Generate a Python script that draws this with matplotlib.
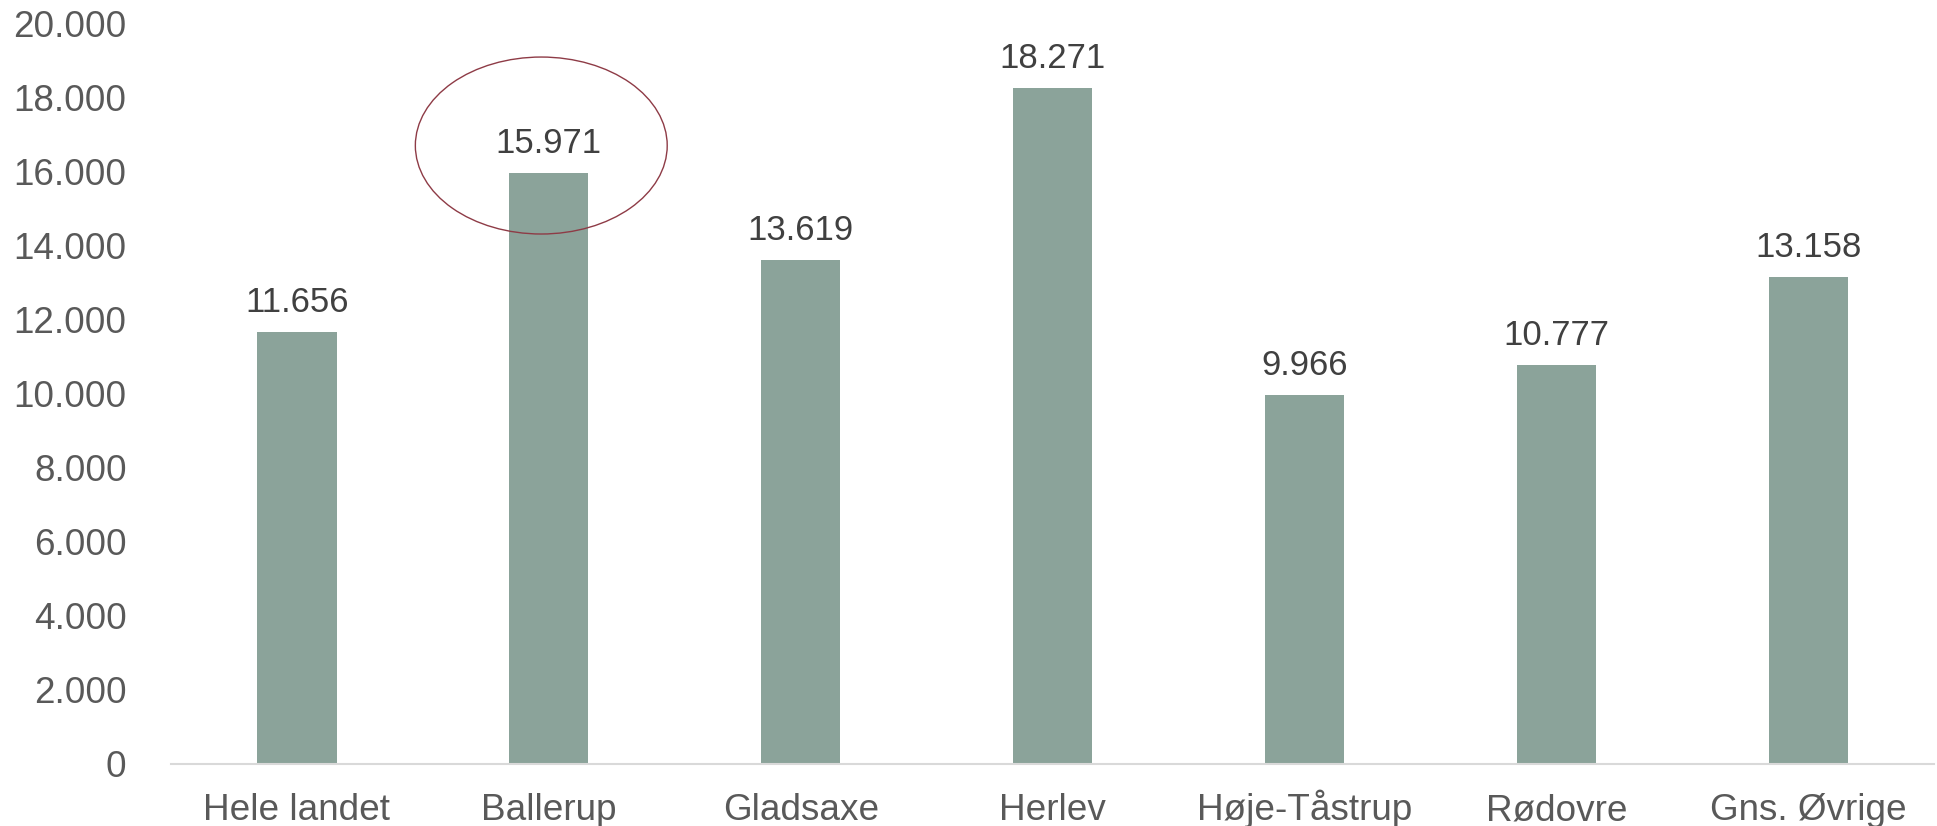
import matplotlib
matplotlib.use("Agg")
import matplotlib.pyplot as plt
from matplotlib.patches import Ellipse
from matplotlib.ticker import FuncFormatter

categories = ["Hele landet", "Ballerup", "Gladsaxe", "Herlev", "Høje-Tåstrup", "Rødovre", "Gns. Øvrige"]
values = [11656, 15971, 13619, 18271, 9966, 10777, 13158]
yticks = [0, 2000, 4000, 6000, 8000, 10000, 12000, 14000, 16000, 18000, 20000]
highlight = "Ballerup"

plt.rcParams['font.family'] = ['Liberation Sans', 'DejaVu Sans']
FS = 26.6
FS_DATA = 25

fig = plt.figure(figsize=(19.37, 8.26), dpi=100)
ax = fig.add_axes([0.0883, 0.0751, 0.9102, 0.8964])

x = list(range(len(categories)))
bars = ax.bar(x, values, width=0.314, color="#8BA39A")

def dk(v):
    return f"{int(v):,}".replace(",", ".")

for xi, v in zip(x, values):
    ax.annotate(dk(v), (xi, v), xytext=(0, 14.4), textcoords="offset points",
                ha="center", va="baseline", fontsize=FS_DATA, color="#404040")

ax.set_xlim(-0.5, len(categories) - 0.5)
ax.set_ylim(0, 20000)
ax.set_yticks(yticks)
ax.yaxis.set_major_formatter(FuncFormatter(lambda v, p: dk(v)))
ax.set_xticks(x)
ax.set_xticklabels(categories)
ax.tick_params(axis="y", length=0, pad=32, labelsize=FS, labelcolor="#595959")
ax.tick_params(axis="x", length=0, pad=40.5, labelsize=FS, labelcolor="#595959")
for lbl in ax.get_xticklabels():
    lbl.set_verticalalignment("baseline")

for s in ["top", "right", "left"]:
    ax.spines[s].set_visible(False)
ax.spines["bottom"].set_color("#D9D9D9")
ax.spines["bottom"].set_linewidth(1.5)

hi = categories.index(highlight)
ell = Ellipse((hi - 0.03, values[hi] + 734), width=1.0, height=4780,
              fill=False, edgecolor="#8E3B46", linewidth=1.0, clip_on=False)
ax.add_patch(ell)

fig.savefig("out.png", dpi=100)
